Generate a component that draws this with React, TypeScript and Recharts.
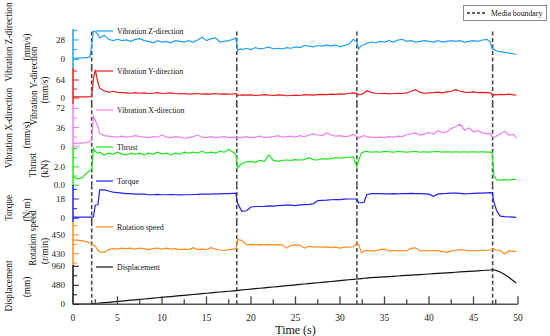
import { LineChart, Line, XAxis, YAxis, ReferenceLine } from 'recharts';

// time stamps (s)
const TIME = [
  0, 0.5, 1, 1.5, 1.9, 2.1, 2.3, 2.5, 2.8,
  3, 3.5, 4, 4.5, 5, 5.5, 6, 6.5, 7, 7.5, 8, 8.5, 9, 9.5, 10, 10.5, 11, 11.5, 12, 12.5, 13, 13.5, 14, 14.5, 15, 15.5, 16, 16.5, 17, 17.5, 18,
  18.3, 18.5, 18.8,
  19, 19.5, 20, 20.5, 21, 21.5, 22, 22.5, 23, 23.5, 24, 24.5, 25, 25.5, 26, 26.5, 27, 27.5, 28, 28.5, 29, 29.5, 30, 30.5, 31, 31.5,
  31.9, 32.1, 32.4, 32.7,
  33, 33.5, 34, 34.5, 35, 35.5, 36, 36.5, 37, 37.5, 38, 38.5, 39, 39.5, 40, 40.5, 41, 41.5, 42, 42.5, 43, 43.5, 44, 44.5, 45, 45.5, 46, 46.5,
  46.9, 47.1, 47.3, 47.6,
  48, 48.5, 49, 49.5, 49.8,
];

// Vibration Z-direction (mm/s)
const VIB_Z = [
  1.5, 1.8, 2, 2.3, 3.5, 20, 41, 40, 36,
  31, 35, 29, 27, 29, 27, 28, 26, 29, 30, 27, 26, 24, 27, 25, 26, 24, 27, 26, 25, 27, 25, 28, 32, 27, 30, 31, 25, 26, 27, 29,
  31, 13, 15,
  14, 16, 14, 17, 15, 16, 18, 15, 16, 15, 17, 16, 18, 17, 20, 19, 18, 20, 19, 21, 19, 21, 18, 20, 22, 29,
  25, 15, 20, 21,
  23, 25, 24, 26, 25, 27, 25, 28, 29, 26, 27, 25, 26, 27, 26, 25, 27, 25, 26, 27, 26, 27, 25, 26, 27, 26, 28, 29,
  25, 15, 14, 12,
  11, 10, 9, 8, 7,
];

// Vibration Y-direction (mm/s)
const VIB_Y = [
  4, 4, 4, 4, 5, 6, 70, 100, 55,
  35, 26, 20, 24, 20, 19, 18, 17, 19, 17, 18, 16, 17, 19, 16, 17, 18, 16, 15, 16, 14, 15, 16, 14, 15, 14, 16, 14, 15, 14, 15,
  16, 9, 10,
  11, 10, 11, 9, 10, 12, 10, 9, 11, 10, 8, 9, 10, 9, 12, 11, 10, 12, 13, 12, 14, 13, 15, 14, 16, 18,
  17, 12, 13, 18,
  26, 20, 17, 16, 17, 15, 16, 17, 16, 18, 24, 30, 20, 17, 18, 19, 21, 18, 22, 24, 30, 24, 21, 20, 22, 19, 20, 19,
  18, 11, 12, 11,
  13, 12, 14, 11, 10,
];

// Vibration X-direction (mm/s)
const VIB_X = [
  6, 7, 7, 8, 10, 13, 57, 50, 38,
  25, 21, 20, 19, 18, 20, 18, 19, 21, 19, 18, 17, 19, 18, 22, 18, 17, 19, 18, 16, 17, 19, 22, 18, 17, 19, 17, 18, 19, 17, 18,
  17, 16, 18,
  17, 19, 17, 18, 20, 17, 18, 19, 21, 18, 19, 20, 18, 21, 19, 22, 24, 22, 21, 26, 22, 20, 21, 19, 20, 23,
  19, 16, 19, 21,
  19, 18, 17, 18, 17, 19, 18, 20, 19, 23, 24, 26, 22, 24, 27, 24, 30, 26, 28, 34, 38, 42, 31, 35, 28, 30, 26, 24,
  25, 18, 17, 20,
  24, 29, 22, 23, 16,
];

// Thrust (kN)
const THRUST = [
  0.9, 0.7, 0.8, 1.3, 1.6, 1.7, 4.0, 3.7, 3.5,
  3.6, 3.3, 3.5, 3.4, 3.6, 3.4, 3.3, 3.5, 3.4, 3.5, 3.3, 3.5, 3.4, 3.6, 3.4, 3.5, 3.3, 3.5, 3.4, 3.6, 3.5, 3.6, 3.5, 3.7, 3.5, 3.6, 3.5, 3.7, 3.6, 3.9, 3.6,
  3.4, 1.9, 2.2,
  2.4, 2.55, 2.6, 2.5, 2.7, 2.6, 3.3, 2.7, 2.6, 2.7, 2.75, 2.7, 2.8, 2.75, 2.8, 3.0, 2.8, 2.75, 2.9, 2.85, 2.9, 3.0, 2.95, 3.0, 3.05, 3.1,
  2.0, 2.7, 3.5, 3.65,
  3.7, 3.6, 3.65, 3.6, 3.7, 3.65, 3.6, 3.7, 3.65, 3.6, 3.65, 3.7, 3.6, 3.65, 3.6, 3.65, 3.7, 3.6, 3.65, 3.6, 3.65, 3.6, 3.65, 3.6, 3.65, 3.6, 3.65, 3.6,
  3.6, 3.5, 1.0, 0.6,
  0.55, 0.6, 0.55, 0.65, 0.6,
];

// Torque (N·m)
const TORQUE = [
  1, 1, 1, 1, 1, 1, 1.2, 12.4, 12.6,
  26.5, 26.5, 25.5, 24.5, 24, 23.5, 23, 23, 22.5, 22.5, 22.5, 22, 22, 22.3, 22, 22, 22.2, 22, 21.8, 22, 22, 22.2, 22.3, 22.5, 22.5, 22.6, 22.8, 22.8, 23, 23, 23.2,
  23.3, 14, 9,
  6.5, 7, 10.5, 11, 11, 11.2, 11.5, 11.3, 11.8, 12, 12.2, 12.3, 11.8, 12.5, 12.8, 13, 13.5, 16.5, 16.8, 17, 17.3, 17.5, 17.5, 17.8, 18, 18,
  18, 14.5, 14.5, 15,
  22, 23, 23, 23, 22.8, 22.8, 23, 22.8, 23, 23, 23.2, 23, 23, 22.8, 22.5, 20.5, 22.5, 23, 23.2, 23.5, 23.5, 23.3, 22.8, 23, 23.3, 23.5, 23.5, 23.8,
  24, 23.8, 15, 7,
  2, 1.5, 1.2, 1, 0.9,
];

// Rotation speed (r/min)
const SPEED = [
  444.7, 444.5, 444, 443, 441.5, 440.5, 439, 438, 434,
  432, 431.5, 434.5, 435.5, 435, 436, 435.5, 436, 435, 436, 435.5, 434.5, 435.5, 436, 435, 436, 435, 435.5, 434.5, 435, 434.5, 436.5, 434.5, 435, 434.5, 436.5, 435, 434, 433.5, 434.5, 435,
  435, 445, 444.5,
  444, 439.5, 440, 439.5, 439.8, 439.5, 439.8, 439.5, 439.8, 439.5, 436, 439, 439.5, 439, 436, 438, 437, 437.5, 437, 437.3, 436.5, 437, 436, 437, 437, 437.5,
  441, 440, 431, 433,
  433.5, 433, 433, 434.5, 435, 433, 433.5, 433, 433.5, 433, 436, 436.3, 433, 433.5, 433, 433.5, 433, 432.5, 431.5, 433, 433.5, 434.5, 434, 433, 433.5, 433, 434, 433.5,
  434, 434.5, 435, 434,
  433.5, 430, 433, 432.5, 432.5,
];

// Displacement (mm)
const DISP = [
  0, 2, 4, 6, 8, 12, 16, 20, 26,
  30, 41, 51, 62, 72, 82, 93, 103, 113, 124, 134, 144, 155, 165, 175, 186, 196, 206, 217, 227, 237, 248, 258, 268, 279, 289, 299, 310, 320, 330, 341,
  347, 352, 358,
  363, 373, 384, 395, 405, 416, 427, 437, 448, 459, 469, 480, 491, 502, 512, 523, 534, 544, 555, 566, 576, 587, 598, 609, 619, 630,
  639, 643, 650, 657,
  663, 671, 678, 685, 692, 700, 707, 714, 722, 729, 736, 744, 751, 758, 765, 773, 780, 787, 795, 802, 809, 816, 824, 831, 838, 846, 853, 860,
  866, 868, 866, 850,
  815, 755, 675, 590, 537,
];

const MEDIA_BOUNDARIES = [2.1, 18.4, 31.9, 47.15];

const TIME_TICKS = [0, 2.5, 5, 7.5, 10, 12.5, 15, 17.5, 20, 22.5, 25, 27.5, 30, 32.5, 35, 37.5, 40, 42.5, 45, 47.5, 50];

const Z_TICKS = [0, 14, 28, 42];
const Z_LABELS = [0, 28];
const Y_TICKS = [0, 32, 64, 96];
const Y_LABELS = [0, 64];
const X_TICKS = [0, 18, 36, 54, 72];
const X_LABELS = [0, 36, 72];
const THRUST_TICKS = [0, 1, 2, 3, 4];
const THRUST_LABELS = [0, 2];
const TORQUE_TICKS = [0, 9, 18, 27];
const TORQUE_LABELS = [0, 18];
const SPEED_TICKS = [420, 430, 440, 450, 460];
const SPEED_LABELS = [430, 450];
const DISP_TICKS = [0, 240, 480, 720, 960];
const DISP_LABELS = [0, 480, 960];

const FONT = "'Liberation Serif', 'Times New Roman', Times, serif";

const rows = TIME.map((t, i) => ({
  t,
  z: VIB_Z[i],
  y: VIB_Y[i],
  x: VIB_X[i],
  thrust: THRUST[i],
  torque: TORQUE[i],
  speed: SPEED[i],
  disp: DISP[i],
}));

const panels = [
  { key: 'z', name: 'Vibration Z-direction', unit: '(mm/s)', color: '#1f9ff2',
    top: 29, bottom: 68, domain: [-12.6, 43.9], ticks: Z_TICKS, labels: Z_LABELS, digits: 0,
    legendY: 31, titlePos: [9, 42], unitPos: [27, 47] },
  { key: 'y', name: 'Vibration Y-direction', unit: '(mm/s)', color: '#f01818',
    top: 68, bottom: 104, domain: [-21.3, 106.7], ticks: Y_TICKS, labels: Y_LABELS, digits: 0,
    legendY: 71, titlePos: [34, 86], unitPos: [45, 90] },
  { key: 'x', name: 'Vibration X-direction', unit: '(mm/s)', color: '#f07ef0',
    top: 104, bottom: 146.8, domain: [0, 80], ticks: X_TICKS, labels: X_LABELS, digits: 0,
    legendY: 110, titlePos: [9, 128], unitPos: [27, 135] },
  { key: 'thrust', name: 'Thrust', unit: '(kN)', color: '#1ee61e',
    top: 146.8, bottom: 185, domain: [0, 4.17], ticks: THRUST_TICKS, labels: THRUST_LABELS, digits: 1,
    legendY: 147, titlePos: [33, 165], unitPos: [45, 169] },
  { key: 'torque', name: 'Torque', unit: '(N·m)', color: '#2020f0',
    top: 185, bottom: 222, domain: [-3.5, 31.1], ticks: TORQUE_TICKS, labels: TORQUE_LABELS, digits: 0,
    legendY: 181, titlePos: [9, 208], unitPos: [27, 210] },
  { key: 'speed', name: 'Rotation speed', unit: '(r/min)', color: '#ff8c1a',
    top: 222, bottom: 265, domain: [418, 463.9], ticks: SPEED_TICKS, labels: SPEED_LABELS, digits: 0,
    legendY: 227, titlePos: [33, 238], unitPos: [45, 251] },
  { key: 'disp', name: 'Displacement', unit: '(mm)', color: '#111111',
    top: 265, bottom: 304.3, domain: [0, 992], ticks: DISP_TICKS, labels: DISP_LABELS, digits: 0,
    legendY: 267, titlePos: [9, 286], unitPos: [27, 287] },
];

const XTick = (props: any) => {
  const { x, y, payload } = props;
  const major = payload.value % 5 === 0;
  return (
    <g>
      <line x1={x} x2={x} y1={y} y2={y - (major ? 8 : 5)} stroke="#444" strokeWidth={1.3} />
      {major && (
        <text x={x} y={y + 14} textAnchor="middle" dominantBaseline="central" fontSize={9.5} fontFamily={FONT} fill="#222">
          {payload.value}
        </text>
      )}
    </g>
  );
};

const makeYTick = (color: string, labels: number[], digits: number) => (props: any) => {
  const { x, y, payload } = props;
  const major = labels.includes(payload.value);
  return (
    <g>
      <line x1={x} x2={x + (major ? 6 : 4)} y1={y} y2={y} stroke={color} strokeWidth={1} />
      {major && (
        <text x={x - 8} y={y} textAnchor="end" dominantBaseline="central" fontSize={9} fontFamily={FONT} fill="#222">
          {payload.value.toFixed(digits)}
        </text>
      )}
    </g>
  );
};

export default function App() {
  return (
    <div style={{ position: 'absolute', left: 0, top: 0, width: 550, height: 336, background: '#fff', fontFamily: FONT }}>
      <style>{`.recharts-surface { overflow: visible; } text { font-family: ${FONT}; }`}</style>
      {panels.map((p) => {
        const isLast = p.key === 'disp';
        const h = p.bottom - p.top + (isLast ? 32 : 0);
        return (
          <div key={p.key} style={{ position: 'absolute', left: 0, top: p.top }}>
            <LineChart width={550} height={h} data={rows} margin={{ top: 0, right: 32, bottom: 0, left: 0 }}>
              <XAxis
                dataKey="t"
                type="number"
                domain={[0, 50]}
                ticks={TIME_TICKS}
                interval={0}
                hide={!isLast}
                height={32}
                tickSize={0}
                tickMargin={0}
                tickLine={false}
                axisLine={{ stroke: '#555', strokeWidth: 1.6 }}
                tick={<XTick />}
                label={{ value: 'Time (s)', position: 'insideBottom', offset: 2, fontSize: 12, fill: '#111', fontFamily: FONT }}
              />
              <YAxis
                type="number"
                domain={p.domain}
                ticks={p.ticks}
                interval={0}
                width={73}
                tickSize={0}
                tickMargin={0}
                tickLine={false}
                axisLine={{ stroke: p.color, strokeWidth: 1.5 }}
                tick={makeYTick(p.color, p.labels, p.digits)}
              />
              {MEDIA_BOUNDARIES.map((b) => (
                <ReferenceLine key={b} x={b} stroke="#4a4a4a" strokeWidth={1.6} strokeDasharray="4 2.5" />
              ))}
              <Line
                type="linear"
                dataKey={p.key}
                stroke={p.color}
                strokeWidth={1.2}
                dot={false}
                isAnimationActive={false}
              />
            </LineChart>
          </div>
        );
      })}

      <svg width={550} height={336} style={{ position: 'absolute', left: 0, top: 0, pointerEvents: 'none' }}>
        {panels.map((p) => (
          <g key={p.key}>
            <text
              transform={`translate(${p.titlePos[0]},${p.titlePos[1]}) rotate(-90)`}
              textAnchor="middle"
              dominantBaseline="central"
              fontSize={9.3}
              fontFamily={FONT}
              fill="#111"
            >
              {p.name}
            </text>
            <text
              transform={`translate(${p.unitPos[0]},${p.unitPos[1]}) rotate(-90)`}
              textAnchor="middle"
              dominantBaseline="central"
              fontSize={9.3}
              fontFamily={FONT}
              fill="#111"
            >
              {p.unit}
            </text>
            <line x1={96} x2={113} y1={p.legendY} y2={p.legendY} stroke={p.color} strokeWidth={1.2} />
            <text x={117} y={p.legendY} dominantBaseline="central" fontSize={7.8} fontFamily={FONT} fill="#111">
              {p.name}
            </text>
          </g>
        ))}
        <rect x={463.5} y={5.5} width={83} height={15} fill="#fff" stroke="#8a8a8a" strokeWidth={1} />
        <line x1={467} x2={485} y1={13} y2={13} stroke="#333" strokeWidth={1.5} strokeDasharray="3 2" />
        <text x={491} y={13} dominantBaseline="central" fontSize={7.8} fontFamily={FONT} fill="#111">
          Media boundary
        </text>
      </svg>
    </div>
  );
}
